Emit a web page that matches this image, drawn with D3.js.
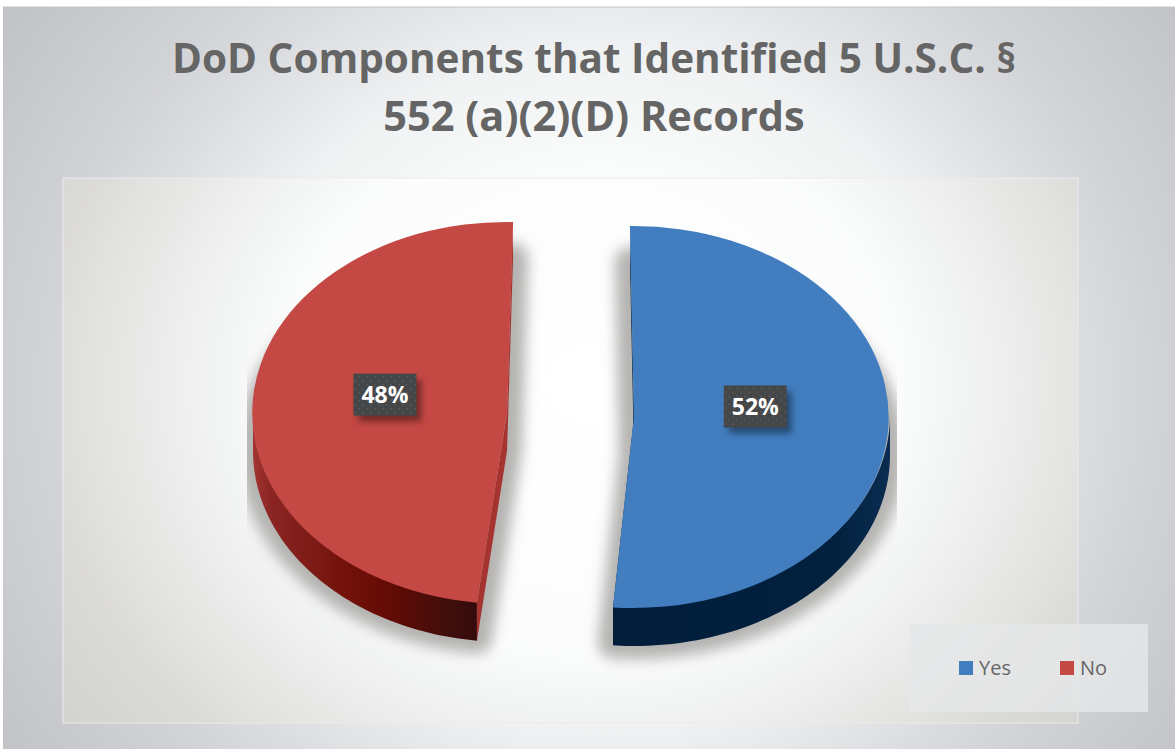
<!DOCTYPE html>
<html>
<head>
<meta charset="utf-8">
<title>DoD Components</title>
<script src="https://d3js.org/d3.v7.min.js"></script>
<style>
  html, body { margin: 0; padding: 0; background: #fff; }
  svg { display: block; }
  text { font-family: "Open Sans", sans-serif; }
</style>
</head>
<body>
<div id="chart"></div>
<script>
// chart values
var categories = ["Yes", "No"];
var percents = [52, 48];
var titleLines = ["DoD Components that Identified 5 U.S.C. \u00a7", "552 (a)(2)(D) Records"];

// look of each slice
var topColors = ["#417dbf", "#c44844"];
var wallColors = ["#0b2d52", "#a53431"];
var rimFills = ["url(#rimBlue)", "url(#rimRed)"];
var centers = [[634, 417], [507, 413]];
var radiiX = [256, 254];
var startShift = [-0.9, -0.4];   // degrees, the 3D view turns each slice a bit
var endShift = [-2.5, 1.35];
var labelNudge = [[1, -13.5], [-3, -12]];
var titleSizes = [40.5, 41.5];

var width = 1175, height = 749;
var ry = 191, depth = 38;

var svg = d3.select("#chart").append("svg")
    .attr("width", width)
    .attr("height", height);

var defs = svg.append("defs");

// elliptical gradient in page coordinates
function radial(id, cx, cy, rx, ryy, stops) {
  var g = defs.append("radialGradient").attr("id", id)
      .attr("gradientUnits", "userSpaceOnUse")
      .attr("cx", 0).attr("cy", 0).attr("r", 1)
      .attr("gradientTransform", "translate(" + cx + "," + cy + ") scale(" + rx + "," + ryy + ")");
  stops.forEach(function(s) {
    g.append("stop").attr("offset", s[0]).attr("stop-color", s[1]);
  });
}
function linear(id, x1, x2, stops) {
  var g = defs.append("linearGradient").attr("id", id)
      .attr("gradientUnits", "userSpaceOnUse")
      .attr("x1", x1).attr("x2", x2).attr("y1", 0).attr("y2", 0);
  stops.forEach(function(s) {
    g.append("stop").attr("offset", s[0]).attr("stop-color", s[1]);
  });
}

radial("bg", 600, 390, 713, 670, [[0, "#ffffff"], [0.32, "#fbfcfc"], [0.51, "#eff1f2"], [0.676, "#dcdde0"], [0.787, "#d1d2d5"], [1, "#c2c3c7"]]);
radial("plotBg", 590, 385, 653, 571, [[0, "#ffffff"], [0.47, "#fbfcfc"], [0.59, "#f1f2f2"], [0.745, "#e4e4e2"], [0.833, "#dcdbd8"], [1, "#d2d2d0"]]);
linear("rimRed", 255, 478, [[0, "#a03330"], [0.07, "#8a2523"], [0.44, "#701008"], [0.6, "#640b05"], [0.88, "#3e0e0c"], [1, "#360b0c"]]);
linear("rimBlue", 613, 890, [[0, "#011d3b"], [0.8, "#02213f"], [1, "#0a2c50"]]);

defs.append("filter").attr("id", "blur")
    .attr("x", "-20%").attr("y", "-20%").attr("width", "140%").attr("height", "140%")
  .append("feGaussianBlur").attr("stdDeviation", 7);
defs.append("filter").attr("id", "labelBlur")
    .attr("x", "-30%").attr("y", "-30%").attr("width", "160%").attr("height", "160%")
  .append("feGaussianBlur").attr("stdDeviation", 3);
defs.append("clipPath").attr("id", "shadowClip")
  .append("rect").attr("x", 247).attr("y", 178).attr("width", 650).attr("height", 545);

var dots = defs.append("pattern").attr("id", "dots")
    .attr("patternUnits", "userSpaceOnUse").attr("width", 8).attr("height", 8);
dots.append("rect").attr("width", 8).attr("height", 8).attr("fill", "#454648");
dots.append("circle").attr("cx", 2).attr("cy", 2).attr("r", 1).attr("fill", "#58595b");
dots.append("circle").attr("cx", 6).attr("cy", 6).attr("r", 1).attr("fill", "#58595b");

// background and plot area
svg.append("rect").attr("width", width).attr("height", height).attr("fill", "#fff");
svg.append("rect").attr("x", 3).attr("y", 7).attr("width", width - 3).attr("height", height - 7)
    .attr("fill", "url(#bg)");
svg.append("line").attr("x1", 3).attr("x2", width).attr("y1", 7).attr("y2", 7)
    .attr("stroke", "#c4c4c6");
svg.append("rect").attr("x", 63).attr("y", 178).attr("width", 1015).attr("height", 545)
    .attr("fill", "url(#plotBg)").attr("stroke", "#ebebeb");

// title
svg.selectAll("text.title")
  .data(titleLines)
  .enter()
  .append("text")
    .attr("class", "title")
    .attr("x", 594)
    .attr("y", function(d, i) { return 73 + i * 58; })
    .attr("text-anchor", "middle")
    .attr("font-size", function(d, i) { return titleSizes[i]; })
    .attr("font-weight", 700)
    .attr("fill", "#656565")
    .text(function(d) { return d; });

// pie
var pie = d3.pie().sort(null)
    .value(function(d) { return d; });
var slices = pie(percents).map(function(s, i) {
  return {
    i: i,
    data: s.data,
    a0: s.startAngle + startShift[i] * Math.PI / 180,
    a1: s.endAngle + endShift[i] * Math.PI / 180,
    cx: centers[i][0],
    cy: centers[i][1],
    rx: radiiX[i]
  };
});

var unit = d3.arc().innerRadius(0).outerRadius(1);
var labelArc = d3.arc().innerRadius(0).outerRadius(0.94);

function pt(s, a, dz) {
  return [s.cx + s.rx * Math.sin(a), s.cy - ry * Math.cos(a) + dz];
}
function ring(s, a0, a1, dz) {
  return d3.range(0, 61).map(function(k) {
    return pt(s, a0 + (a1 - a0) * k / 60, dz);
  });
}
var line = d3.line();

function topPath(s, dz) {
  return line([[s.cx, s.cy + dz]].concat(ring(s, s.a0, s.a1, dz))) + "Z";
}

// soft shadow, cut off at the sides like the original
svg.append("g").attr("clip-path", "url(#shadowClip)")
  .append("g").attr("filter", "url(#blur)")
  .selectAll("path")
  .data(slices)
  .enter()
  .append("path")
    .attr("d", function(d) { return topPath(d, 36); })
    .attr("fill", "#b4b3b1")
    .attr("stroke", "#b4b3b1")
    .attr("stroke-width", 30)
    .attr("stroke-linejoin", "round");

// side walls along the cuts
slices.forEach(function(s) {
  var apex = [s.cx, s.cy];
  [s.a0, s.a1].forEach(function(a) {
    var p = pt(s, a, 0);
    svg.append("path")
      .attr("d", line([apex, p, [p[0], p[1] + depth], [apex[0], apex[1] + depth]]) + "Z")
      .attr("fill", wallColors[s.i]);
  });
});

// rounded rim at the front, starts a bit under the face so no seam shows
slices.forEach(function(s) {
  var a0 = Math.max(s.a0, Math.PI / 2);
  var a1 = Math.min(s.a1, 3 * Math.PI / 2);
  var pts = ring(s, a0, a1, -2).concat(ring(s, a0, a1, depth).reverse());
  svg.append("path")
    .attr("d", line(pts) + "Z")
    .attr("fill", rimFills[s.i]);
});

// top faces
svg.selectAll("path.face")
  .data(slices)
  .enter()
  .append("path")
    .attr("class", "face")
    .attr("d", function(d) {
      return unit({startAngle: d.a0, endAngle: d.a1});
    })
    .attr("transform", function(d) {
      return "translate(" + d.cx + "," + d.cy + ") scale(" + d.rx + "," + ry + ")";
    })
    .attr("fill", function(d) { return topColors[d.i]; });

// data labels
var labelW = 63, labelH = 42;
var labels = svg.selectAll("g.label")
  .data(slices)
  .enter()
  .append("g")
    .attr("class", "label")
    .attr("transform", function(d) {
      var c = labelArc.centroid({startAngle: d.a0, endAngle: d.a1});
      var n = labelNudge[d.i];
      return "translate(" + (d.cx + c[0] * d.rx + n[0]) + "," + (d.cy + c[1] * ry + n[1]) + ")";
    });
labels.append("rect")
    .attr("x", -labelW / 2 + 5).attr("y", -labelH / 2 + 6)
    .attr("width", labelW).attr("height", labelH)
    .attr("fill", "#000").attr("fill-opacity", 0.4)
    .attr("filter", "url(#labelBlur)");
labels.append("rect")
    .attr("x", -labelW / 2).attr("y", -labelH / 2)
    .attr("width", labelW).attr("height", labelH)
    .attr("fill", "url(#dots)");
labels.append("text")
    .attr("text-anchor", "middle")
    .attr("dy", "0.36em")
    .attr("font-size", 23)
    .attr("font-weight", 700)
    .attr("fill", "#fff")
    .text(function(d) { return d.data + "%"; });

// legend
svg.append("rect").attr("x", 909).attr("y", 624).attr("width", 239).attr("height", 88)
    .attr("fill", "#e6e7e9").attr("fill-opacity", 0.8);
var legendX = d3.scalePoint().domain(categories).range([959, 1060]);
var legend = svg.selectAll("g.legend")
  .data(categories)
  .enter()
  .append("g")
    .attr("class", "legend")
    .attr("transform", function(d) { return "translate(" + legendX(d) + ",661)"; });
legend.append("rect")
    .attr("width", 14).attr("height", 14)
    .attr("fill", function(d, i) { return topColors[i]; });
legend.append("text")
    .attr("x", 20).attr("y", 14)
    .attr("font-size", 20)
    .attr("fill", "#666")
    .text(function(d) { return d; });
</script>
</body>
</html>
